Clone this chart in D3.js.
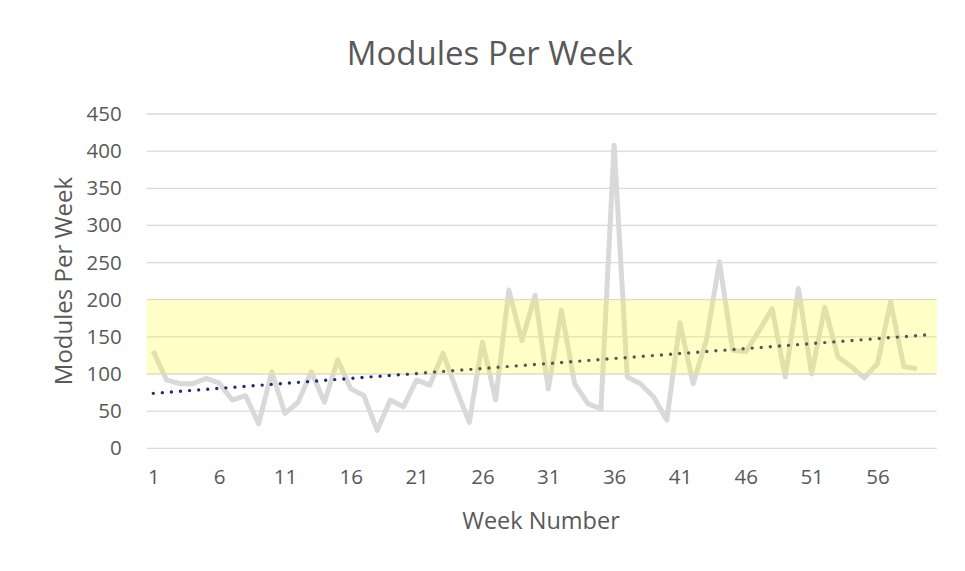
<!DOCTYPE html>
<meta charset="utf-8">
<style>
body { margin: 0; background: #fff; }
text { font-family: "Open Sans", sans-serif; fill: #595959; }
.grid line { stroke: #d9d9d9; stroke-width: 1.3px; }
.line { fill: none; stroke: #d9d9d9; stroke-width: 5px; stroke-linejoin: round; }
.trend { fill: none; stroke: #1f2d6e; stroke-width: 3.4px; stroke-linecap: round; stroke-dasharray: 0 9.1; }
</style>
<svg width="965" height="571"></svg>
<script src="https://cdn.jsdelivr.net/npm/d3@7"></script>
<script>

// weekly module counts, weeks 1..59
var weeks = d3.range(1, 60);
var modules = [131, 92, 87, 87, 94, 88, 65, 71, 33, 103,
               47, 62, 103, 62, 119, 80, 71, 24, 65, 56,
               92, 85, 128, 80, 35, 143, 65, 213, 145, 206,
               80, 186, 87, 60, 53, 408, 96, 87, 69, 38,
               169, 87, 145, 251, 132, 130, 158, 188, 96, 215,
               100, 190, 123, 110, 95, 114, 197, 110, 107];

// linear trendline, forecast one week forward
var trendWeeks = [1, 60];
var trendValues = [74, 153];

// target band
var bandLow = 100, bandHigh = 200;

var yTicks = d3.range(0, 451, 50);
var xTicks = [1, 6, 11, 16, 21, 26, 31, 36, 41, 46, 51, 56];

var svg = d3.select("svg");

var x = d3.scaleLinear().domain([0.5, 60.5]).range([146.7, 936.7]),
    y = d3.scaleLinear().domain([0, 450]).range([448.3, 114]);

// title
svg.append("text")
    .attr("x", 490)
    .attr("y", 65)
    .attr("text-anchor", "middle")
    .style("font-size", "33px")
    .text("Modules Per Week");

// gridlines
svg.append("g")
    .attr("class", "grid")
    .selectAll("line")
    .data(yTicks)
    .enter().append("line")
    .attr("x1", x.range()[0])
    .attr("x2", x.range()[1])
    .attr("y1", function(d) { return y(d); })
    .attr("y2", function(d) { return y(d); });

// y axis labels
var yAxis = svg.append("g")
    .attr("transform", "translate(" + x.range()[0] + ",0)")
    .call(d3.axisLeft(y).tickValues(yTicks).tickSize(0).tickPadding(25));
yAxis.select(".domain").remove();
yAxis.selectAll("text").style("font-size", "20.5px").attr("fill", "#595959");

// x axis labels
var xAxis = svg.append("g")
    .attr("transform", "translate(0," + y(0) + ")")
    .call(d3.axisBottom(x).tickValues(xTicks).tickSize(0).tickPadding(21).tickFormat(d3.format("d")));
xAxis.select(".domain").remove();
xAxis.selectAll("text").style("font-size", "20.5px").attr("fill", "#595959");

// axis titles
svg.append("text")
    .attr("x", 541)
    .attr("y", 529)
    .attr("text-anchor", "middle")
    .style("font-size", "23.5px")
    .text("Week Number");

svg.append("text")
    .attr("transform", "translate(64,281) rotate(-90)")
    .attr("dy", "0.35em")
    .attr("text-anchor", "middle")
    .style("font-size", "24px")
    .text("Modules Per Week");

// data line
var line = d3.line()
    .x(function(d, i) { return x(weeks[i]); })
    .y(function(d) { return y(d); });

svg.append("path")
    .datum(modules)
    .attr("class", "line")
    .attr("d", line);

// trendline
var trend = d3.line()
    .x(function(d, i) { return x(trendWeeks[i]); })
    .y(function(d) { return y(d); });

svg.append("path")
    .datum(trendValues)
    .attr("class", "trend")
    .attr("d", trend);

// translucent target band drawn over everything
svg.append("rect")
    .attr("x", x.range()[0])
    .attr("width", x.range()[1] - x.range()[0])
    .attr("y", y(bandHigh))
    .attr("height", y(bandLow) - y(bandHigh))
    .attr("fill", "#ffff00")
    .attr("fill-opacity", 0.22);

</script>
